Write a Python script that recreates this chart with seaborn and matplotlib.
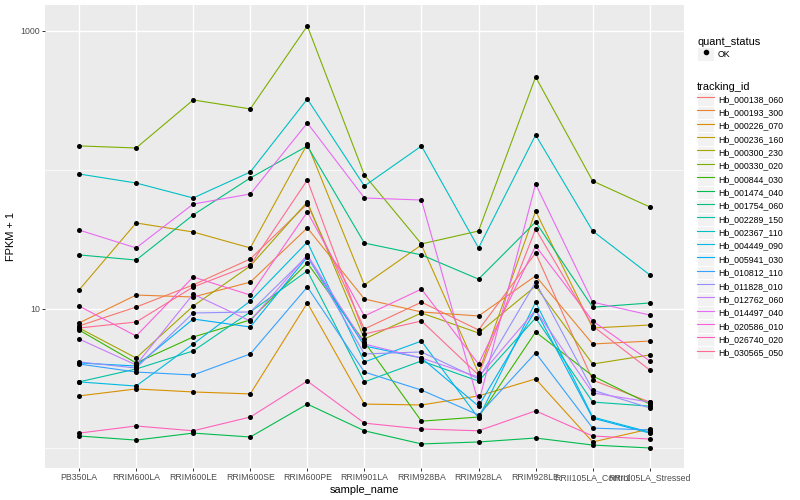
import pandas as pd
import matplotlib
matplotlib.use('Agg')
import matplotlib.pyplot as plt
import seaborn as sns
from matplotlib.lines import Line2D
from matplotlib.patches import Rectangle
from matplotlib.legend_handler import HandlerLine2D
from matplotlib.ticker import FixedLocator, NullFormatter

samples = ['PB350LA', 'RRIM600LA', 'RRIM600LE', 'RRIM600SE', 'RRIM600PE', 'RRIM901LA',
           'RRIM928BA', 'RRIM928LA', 'RRIM928LE', 'RRII105LA_Control', 'RRII105LA_Stressed']

tracking_ids = ['Hb_000138_060', 'Hb_000193_300', 'Hb_000226_070', 'Hb_000236_160',
                'Hb_000300_230', 'Hb_000330_020', 'Hb_000844_030', 'Hb_001474_040',
                'Hb_001754_060', 'Hb_002289_150', 'Hb_002367_110', 'Hb_004449_090',
                'Hb_005941_030', 'Hb_010812_110', 'Hb_011828_010', 'Hb_012762_060',
                'Hb_014497_040', 'Hb_020586_010', 'Hb_026740_020', 'Hb_030565_050']

# FPKM per gene, one value per sample (plotted as FPKM + 1)
hb_000138_060 = [6.55, 9.33, 13.9, 21.9, 55.9, 6.18, 10.2, 6.06, 24.3, 2.08, 1.14]
hb_000193_300 = [6.93, 11.6, 11.2, 14.6, 37.3, 10.8, 8.52, 7.91, 16.3, 4.60, 4.88]
hb_000226_070 = [1.37, 1.66, 1.53, 1.45, 10.05, 1.07, 1.04, 1.37, 2.14, 0.105, 0.37]
hb_000236_160 = [12.7, 40.6, 34.8, 26.5, 152.8, 13.9, 27.9, 2.46, 49.7, 6.30, 6.67]
hb_000300_230 = [6.30, 3.44, 9.50, 19.4, 57.9, 5.08, 8.36, 5.72, 13.6, 3.02, 3.67]
hb_000330_020 = [148, 143, 318, 274, 1085, 91.0, 28.4, 35.4, 466, 82.3, 53.2]
hb_000844_030 = [6.06, 3.09, 5.29, 7.34, 20.4, 4.79, 0.56, 0.67, 5.83, 2.30, 1.07]
hb_001474_040 = [0.22, 0.14, 0.28, 0.20, 1.07, 0.33, 0.07, 0.105, 0.18, 0.05, 0.0]
hb_001754_060 = [23.5, 21.5, 46.5, 86.6, 147.8, 28.8, 23.5, 15.4, 41.3, 9.30, 10.05]
hb_002289_150 = [1.99, 2.70, 3.99, 8.52, 17.8, 1.99, 3.23, 2.03, 7.61, 1.14, 1.00]
hb_002367_110 = [92.6, 79.6, 61.9, 95.7, 323, 75.7, 147.8, 26.5, 177.6, 35.4, 16.6]
hb_004449_090 = [1.99, 1.79, 4.60, 10.4, 29.3, 3.16, 4.88, 0.64, 10.2, 0.67, 0.30]
hb_005941_030 = [3.09, 2.89, 7.47, 6.42, 22.7, 4.42, 3.44, 1.00, 8.83, 0.64, 0.28]
hb_010812_110 = [3.02, 2.52, 2.35, 3.75, 13.4, 2.52, 1.61, 0.73, 3.83, 0.39, 0.35]
hb_011828_010 = [3.16, 2.76, 8.36, 8.52, 23.1, 3.75, 3.91, 2.14, 14.6, 1.61, 0.94]
hb_012762_060 = [5.08, 2.96, 11.8, 7.20, 23.5, 4.60, 3.44, 2.24, 8.83, 1.49, 1.14]
hb_014497_040 = [36.0, 26.5, 55.9, 66.2, 216.8, 61.9, 59.8, 1.11, 78.3, 10.2, 8.05]
hb_020586_010 = [9.50, 5.39, 16.0, 11.6, 48.9, 7.91, 12.9, 3.02, 27.4, 7.20, 3.23]
hb_026740_020 = [0.28, 0.44, 0.33, 0.67, 2.03, 0.51, 0.37, 0.33, 0.85, 0.22, 0.16]
hb_030565_050 = [6.30, 7.06, 13.4, 19.7, 83.7, 5.61, 7.20, 2.35, 36.6, 6.55, 2.64]

fpkm = [hb_000138_060, hb_000193_300, hb_000226_070, hb_000236_160, hb_000300_230,
        hb_000330_020, hb_000844_030, hb_001474_040, hb_001754_060, hb_002289_150,
        hb_002367_110, hb_004449_090, hb_005941_030, hb_010812_110, hb_011828_010,
        hb_012762_060, hb_014497_040, hb_020586_010, hb_026740_020, hb_030565_050]

# ggplot default hue palette for 20 levels
colors = ['#F8766D', '#EA8331', '#D89000', '#C09B00', '#A3A500', '#7CAE00', '#39B600',
          '#00BB4E', '#00BF7D', '#00C1A3', '#00BFC4', '#00BAE0', '#00B0F6', '#35A2FF',
          '#9590FF', '#C77CFF', '#E76BF3', '#FA62DB', '#FF62BC', '#FF6C91']

rows = []
for tid, vals in zip(tracking_ids, fpkm):
    for s, v in zip(samples, vals):
        rows.append({'tracking_id': tid, 'sample_name': s, 'fpkm': v, 'quant_status': 'OK'})
df = pd.DataFrame(rows)
df['FPKM + 1'] = df['fpkm'] + 1

plt.rcParams['font.family'] = ['Liberation Sans', 'DejaVu Sans']

fig, ax = plt.subplots(figsize=(8, 5), dpi=100)
fig.subplots_adjust(left=0.056, right=0.855, bottom=0.064, top=0.99)
ax.set_facecolor('#EBEBEB')
ax.set_yscale('log')

sns.lineplot(data=df, x='sample_name', y='FPKM + 1', hue='tracking_id',
             palette=dict(zip(tracking_ids, colors)), estimator=None, sort=False,
             linewidth=0.8, legend=False, ax=ax)
sns.scatterplot(data=df, x='sample_name', y='FPKM + 1', color='black', s=13,
                linewidth=0, legend=False, zorder=3, ax=ax)

ax.set_xlim(-0.6, len(samples) - 0.4)
ax.set_ylim(0.718, 1538)
ax.yaxis.set_major_locator(FixedLocator([10, 1000]))
ax.yaxis.set_minor_locator(FixedLocator([1, 100]))
ax.yaxis.set_minor_formatter(NullFormatter())
ax.set_yticklabels(['10', '1000'])

ax.set_axisbelow(True)
ax.grid(which='major', color='white', linewidth=1.0)
ax.grid(which='minor', axis='y', color='white', linewidth=0.5)
for sp in ax.spines.values():
    sp.set_visible(False)
ax.tick_params(which='major', length=2, width=0.7, color='#333333',
               labelsize=6.3, labelcolor='#4D4D4D', pad=1.5)
ax.tick_params(which='minor', length=0)

ax.set_xlabel('sample_name', fontsize=7.9, labelpad=2)
ax.set_ylabel('FPKM + 1', fontsize=7.9, labelpad=3)


class KeyHandler(HandlerLine2D):
    # grey ggplot-style key box behind the legend glyph
    def create_artists(self, legend, orig_handle, xdescent, ydescent, width, height, fontsize, trans):
        bg = Rectangle((-xdescent, -ydescent), width, height, facecolor='#F2F2F2',
                       edgecolor='white', linewidth=0.7, transform=trans)
        arts = super().create_artists(legend, orig_handle, xdescent, ydescent,
                                      width, height, fontsize, trans)
        return [bg] + arts


leg_kw = dict(loc='upper left', frameon=False, fontsize=6.3, title_fontsize=7.9,
              alignment='left', borderpad=0, labelspacing=0, handlelength=1.97,
              handleheight=1.97, handletextpad=0.4, numpoints=1,
              handler_map={Line2D: KeyHandler()})

ok_handle = Line2D([], [], color='black', marker='o', markersize=3, linestyle='none')
fig.legend(handles=[ok_handle], labels=['OK'], title='quant_status',
           bbox_to_anchor=(0.866, 0.934), **leg_kw)

id_handles = [Line2D([], [], color=c, linewidth=0.8) for c in colors]
fig.legend(handles=id_handles, labels=tracking_ids, title='tracking_id',
           bbox_to_anchor=(0.866, 0.844), **leg_kw)

plt.savefig('out.png', dpi=100)
